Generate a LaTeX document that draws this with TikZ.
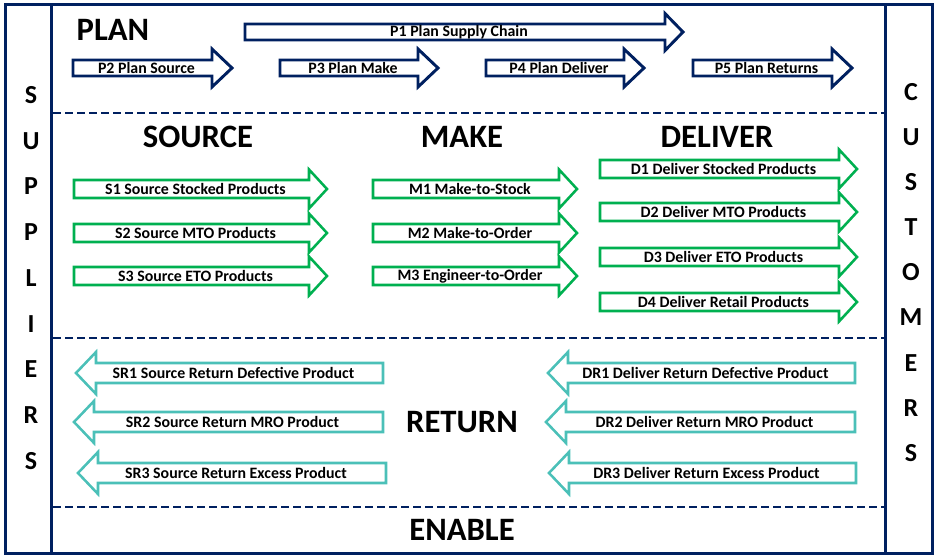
\documentclass[tikz,border=0pt]{standalone}
\usepackage{fontspec}
\setmainfont{Carlito}
\definecolor{navy}{RGB}{0,32,96}
\definecolor{sgreen}{RGB}{0,176,80}
\definecolor{teal2}{RGB}{75,192,184}
\newcommand{\RArrow}[9]{%
  \draw[#2] (#3,#5-#6) -- (#4-#8,#5-#6) -- (#4-#8,#5-#7) -- (#4,#5) -- (#4-#8,#5+#7) -- (#4-#8,#5+#6) -- (#3,#5+#6) -- cycle;
  \node[lbl] (#1) at ({(#3+#4-#8)/2+4},#5) {#9};}
\newcommand{\LArrow}[9]{%
  \draw[#2] (#3,#5-#6) -- (#4+#8,#5-#6) -- (#4+#8,#5-#7) -- (#4,#5) -- (#4+#8,#5+#7) -- (#4+#8,#5+#6) -- (#3,#5+#6) -- cycle;
  \node[lbl] (#1) at ({(#3+#4+#8)/2-6},#5) {#9};}
\begin{document}
\begin{tikzpicture}[x=0.75pt,y=-0.75pt,
  lbl/.style={font=\fontsize{11.9pt}{14pt}\selectfont\bfseries,inner sep=0pt},
  head/.style={font=\fontsize{24.5pt}{28pt}\selectfont\bfseries,inner sep=0pt},
  letter/.style={font=\fontsize{19.5pt}{23pt}\selectfont\bfseries,inner sep=0pt},
  frame/.style={draw=navy,line width=2.25pt},
  sep/.style={draw=navy,line width=1.9pt,dash pattern=on 6pt off 3pt},
  planarrow/.style={draw=navy,fill=white,line width=2.2pt,line join=miter},
  greenarrow/.style={draw=sgreen,fill=white,line width=1.9pt,line join=miter},
  tealarrow/.style={draw=teal2,fill=white,line width=1.9pt,line join=miter}]
\useasboundingbox (0,0) rectangle (939,560);
% frame
\draw[frame] (5.5,4.5) rectangle (932.5,553);
\draw[frame] (51.5,4.5) -- (51.5,553);
\draw[frame] (885.5,4.5) -- (885.5,553);
\draw[sep] (53,113) -- (884,113);
\draw[sep] (53,338) -- (884,338);
\draw[sep] (53,507) -- (884,507);
% headings
\node[head] (plan) at (113,30) {PLAN};
\node[head] (source) at (198,137) {SOURCE};
\node[head] (make) at (462,137) {MAKE};
\node[head] (deliver) at (717,137) {DELIVER};
\node[head] (return) at (462,422) {RETURN};
\node[head] (enable) at (462,530) {ENABLE};
% suppliers / customers
\foreach \l [count=\i from 0] in {S,U,P,P,L,I,E,R,S}
  \node[letter] (sup\i) at (31,{95+45.75*\i}) {\l};
\foreach \l [count=\i from 0] in {C,U,S,T,O,M,E,R,S}
  \node[letter] (cus\i) at (911,{92+45.1*\i}) {\l};
% plan arrows
\RArrow{p1}{planarrow}{245}{683}{32}{8}{18.5}{18}{P1 Plan Supply Chain}
\RArrow{p2}{planarrow}{73}{232}{68}{8}{19}{20}{P2 Plan Source}
\RArrow{p3}{planarrow}{280}{438}{68}{8}{19}{20}{P3 Plan Make}
\RArrow{p4}{planarrow}{486}{644}{68}{8}{19}{20}{P4 Plan Deliver}
\RArrow{p5}{planarrow}{693}{852}{68}{8}{19}{20}{P5 Plan Returns}
% source
\RArrow{s1}{greenarrow}{74}{327}{189}{9}{19.5}{18}{S1 Source Stocked Products}
\RArrow{s2}{greenarrow}{74}{327}{233}{9}{19.5}{18}{S2 Source MTO Products}
\RArrow{s3}{greenarrow}{74}{327}{276}{9}{19.5}{18}{S3 Source ETO Products}
% make
\RArrow{m1}{greenarrow}{373}{577}{189}{9}{19.5}{18}{M1 Make-to-Stock}
\RArrow{m2}{greenarrow}{373}{577}{233}{9}{19.5}{18}{M2 Make-to-Order}
\RArrow{m3}{greenarrow}{373}{577}{276}{9}{19.5}{18}{M3 Engineer-to-Order}
% deliver
\RArrow{d1}{greenarrow}{600}{857}{169}{9}{19.5}{18}{D1 Deliver Stocked Products}
\RArrow{d2}{greenarrow}{600}{857}{212}{9}{19.5}{18}{D2 Deliver MTO Products}
\RArrow{d3}{greenarrow}{600}{857}{257}{9}{19.5}{18}{D3 Deliver ETO Products}
\RArrow{d4}{greenarrow}{600}{857}{302}{9}{19.5}{18}{D4 Deliver Retail Products}
% returns
\LArrow{sr1}{tealarrow}{383}{76}{373}{10}{21}{20}{SR1 Source Return Defective Product}
\LArrow{sr2}{tealarrow}{383}{74}{422}{10}{21}{20}{SR2 Source Return MRO Product}
\LArrow{sr3}{tealarrow}{386}{78}{473}{10}{21}{20}{SR3 Source Return Excess Product}
\LArrow{dr1}{tealarrow}{855}{548}{373}{10}{21}{20}{DR1 Deliver Return Defective Product}
\LArrow{dr2}{tealarrow}{855}{546}{422}{10}{21}{20}{DR2 Deliver Return MRO Product}
\LArrow{dr3}{tealarrow}{856}{549}{473}{10}{21}{20}{DR3 Deliver Return Excess Product}
\end{tikzpicture}
\end{document}
